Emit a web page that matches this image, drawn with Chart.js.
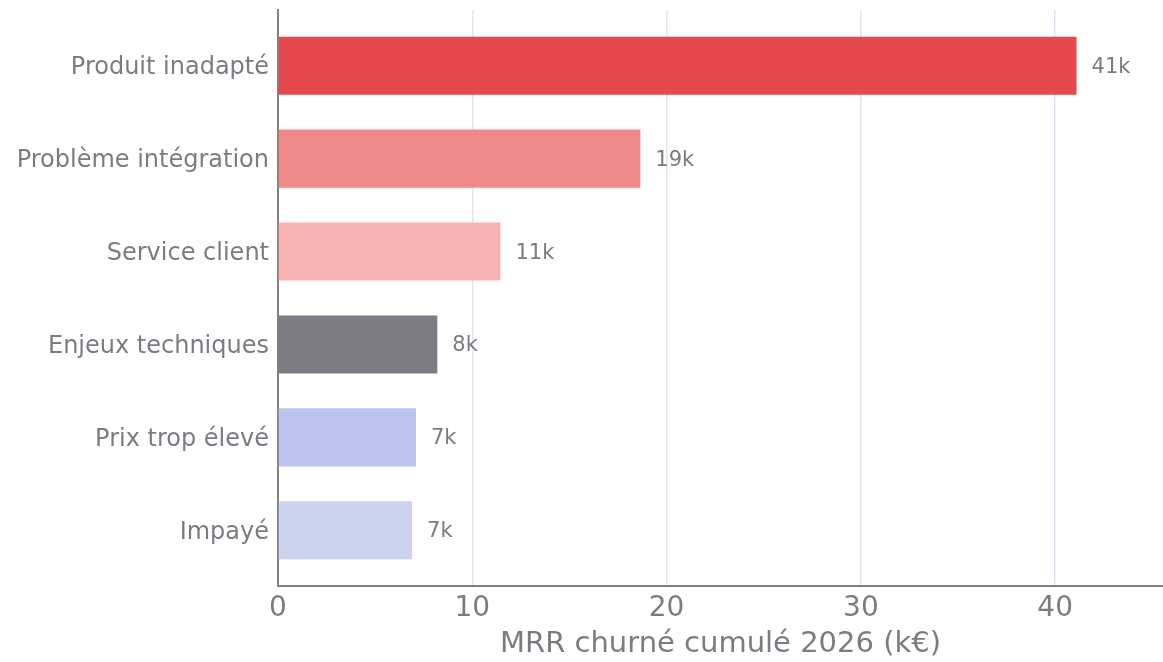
<!DOCTYPE html>
<html>
<head>
<meta charset="utf-8">
<script src="https://cdn.jsdelivr.net/npm/chart.js@4"></script>
<style>
  html, body { margin: 0; padding: 0; background: #fff; }
  #wrap { width: 1163px; height: 662px; }
</style>
</head>
<body>
<div id="wrap"><canvas id="churnChart"></canvas></div>
<script>
const categories = ['Produit inadapté', 'Problème intégration', 'Service client', 'Enjeux techniques', 'Prix trop élevé', 'Impayé'];
const mrrChurned = [41.1, 18.65, 11.45, 8.2, 7.1, 6.9];
const barColors = ['#e5484d', '#f0898a', '#f7b3b1', '#7c7c82', '#bac4ec', '#cdd2ee'];
const xTicks = [0, 10, 20, 30, 40];

const textColor = '#7b7b82';
const fontFamily = '"DejaVu Sans", sans-serif';

// value labels at the end of each bar
const valueLabels = {
  id: 'valueLabels',
  afterDatasetsDraw(chart) {
    const ctx = chart.ctx;
    const meta = chart.getDatasetMeta(0);
    ctx.save();
    ctx.font = '21px ' + fontFamily;
    ctx.fillStyle = textColor;
    ctx.textAlign = 'left';
    ctx.textBaseline = 'middle';
    meta.data.forEach((bar, i) => {
      ctx.fillText(Math.round(mrrChurned[i]) + 'k', bar.x + 15, bar.y + 1.5);
    });
    ctx.restore();
  }
};

new Chart(document.getElementById('churnChart'), {
  type: 'bar',
  data: {
    labels: categories,
    datasets: [{
      data: mrrChurned,
      backgroundColor: barColors,
      categoryPercentage: 1,
      barPercentage: 0.625
    }]
  },
  options: {
    indexAxis: 'y',
    responsive: true,
    maintainAspectRatio: false,
    animation: false,
    layout: { padding: 0 },
    plugins: {
      legend: { display: false },
      tooltip: { enabled: false }
    },
    scales: {
      x: {
        min: 0,
        max: 45.55,
        afterBuildTicks: s => { s.ticks = xTicks.map(v => ({ value: v })); },
        afterFit: s => { s.height = 76; },
        grid: {
          color: ctx => ctx.tick && ctx.tick.value === 0 ? 'rgba(0,0,0,0)' : '#e2e3f3',
          lineWidth: 1.5,
          drawTicks: false
        },
        border: { color: '#808080', width: 2 },
        ticks: {
          color: textColor,
          font: { family: fontFamily, size: 28 },
          padding: 6
        },
        title: {
          display: true,
          text: 'MRR churné cumulé 2026 (k€)',
          color: textColor,
          font: { family: fontFamily, size: 29 },
          padding: { top: 0, bottom: 0 }
        }
      },
      y: {
        afterFit: s => { s.width = 278; s.paddingTop = 10; s.paddingBottom = 0; },
        // a little extra room above the first and below the last bar
        afterBuildTicks: s => { s._startValue -= 0.1; s._valueRange += 0.2; },
        grid: { display: false, drawTicks: false },
        border: { color: '#808080', width: 2 },
        ticks: {
          color: textColor,
          font: { family: fontFamily, size: 24 },
          padding: 9,
          labelOffset: 2.5
        }
      }
    }
  },
  plugins: [valueLabels]
});
</script>
</body>
</html>
